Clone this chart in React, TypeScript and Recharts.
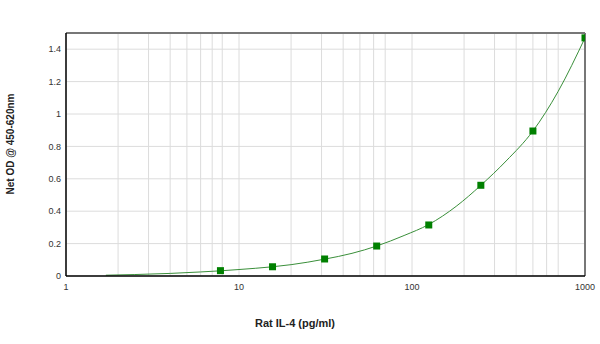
import React from "react";
import {
  ComposedChart,
  Line,
  Scatter,
  XAxis,
  YAxis,
  CartesianGrid,
  ReferenceLine,
  Label,
} from "recharts";

// standard points (pg/ml) and net OD
const standardConc = [7.8125, 15.625, 31.25, 62.5, 125, 250, 500, 1000];
const standardOD = [0.033, 0.057, 0.105, 0.185, 0.315, 0.56, 0.895, 1.47];

// fitted curve
const curveConc = [1.7, 2.5, 4, 6, 7.8125, 10, 15.625, 20, 31.25, 45, 62.5, 90, 125, 180, 250, 350, 500, 700, 1000];
const curveOD = [0.005, 0.009, 0.016, 0.025, 0.032, 0.04, 0.057, 0.07, 0.104, 0.14, 0.185, 0.25, 0.318, 0.43, 0.56, 0.71, 0.895, 1.14, 1.47];

const xTicks = [1, 2, 3, 4, 5, 6, 7, 8, 9, 10, 20, 30, 40, 50, 60, 70, 80, 90, 100, 200, 300, 400, 500, 600, 700, 800, 900, 1000];
const xLabels = [1, 10, 100, 1000];
const yTicks = [0, 0.2, 0.4, 0.6, 0.8, 1, 1.2, 1.4];

const points = standardConc.map((c, i) => ({ x: c, y: standardOD[i] }));
const curve = curveConc.map((c, i) => ({ x: c, y: curveOD[i] }));

const tickStyle = { fontSize: 9, fill: "#333", fontFamily: "Arial, 'Liberation Sans', sans-serif" };

const Square = (p: any) => (
  <rect x={p.cx - 3.5} y={p.cy - 3.5} width={7} height={7} fill="#008000" />
);

export default function App() {
  return (
    <div style={{ position: "absolute", left: 0, top: 0, background: "#fff" }}>
      <ComposedChart
        width={600}
        height={344}
        margin={{ top: 33, right: 15, left: 30, bottom: 38 }}
      >
        <CartesianGrid horizontal={false} stroke="#dcdcdc" />
        <CartesianGrid vertical={false} stroke="#dcdcdc" />
        <XAxis
          dataKey="x"
          type="number"
          scale="log"
          domain={[1, 1000]}
          ticks={xTicks}
          tickFormatter={(v: number) => (xLabels.includes(v) ? String(v) : "")}
          tickLine={false}
          axisLine={{ stroke: "#000", strokeWidth: 1.5 }}
          tick={tickStyle}
          height={30}
          allowDataOverflow
        >
          <Label
            content={() => (
              <text
                x={295}
                y={327}
                textAnchor="middle"
                fontSize={11}
                fontWeight="bold"
                fontFamily="Arial, 'Liberation Sans', sans-serif"
                fill="#222"
              >
                Rat IL-4 (pg/ml)
              </text>
            )}
          />
        </XAxis>
        <YAxis
          dataKey="y"
          type="number"
          domain={[0, 1.5]}
          ticks={yTicks}
          tickLine={false}
          tickSize={0}
          tickMargin={5}
          axisLine={{ stroke: "#000", strokeWidth: 1.5 }}
          tick={tickStyle}
          width={36}
          allowDataOverflow
        >
          <Label
            content={() => (
              <text
                x={14}
                y={144}
                transform="rotate(-90 14 144)"
                textAnchor="middle"
                fontSize={10}
                fontWeight="bold"
                fontFamily="Arial, 'Liberation Sans', sans-serif"
                fill="#222"
              >
                Net OD @ 450-620nm
              </text>
            )}
          />
        </YAxis>
        <ReferenceLine y={1.5} stroke="#777" strokeWidth={2} />
        <ReferenceLine x={1000} stroke="#777" strokeWidth={2} />
        <Line
          data={curve}
          dataKey="y"
          type="monotone"
          stroke="#3a8f3a"
          strokeWidth={1}
          dot={false}
          isAnimationActive={false}
        />
        <Scatter data={points} dataKey="y" shape={Square} isAnimationActive={false} />
      </ComposedChart>
    </div>
  );
}
